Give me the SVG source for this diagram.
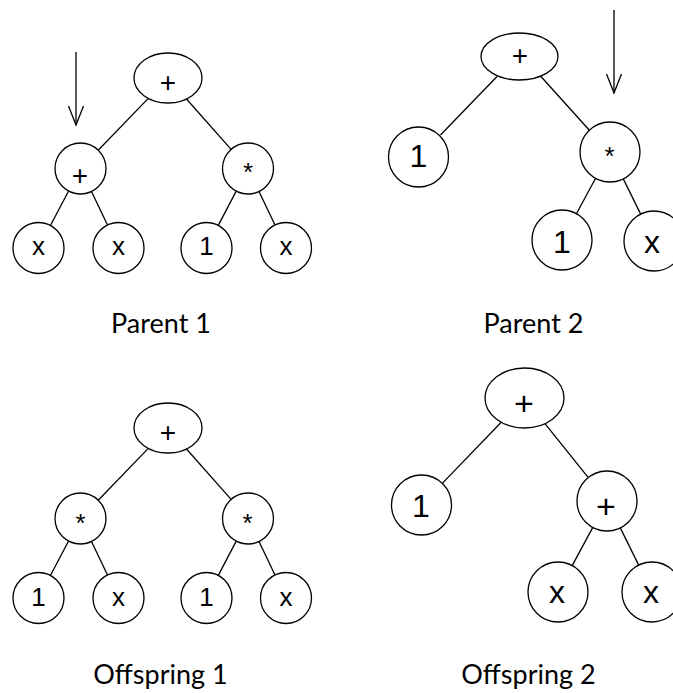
<svg xmlns="http://www.w3.org/2000/svg" width="673" height="693" viewBox="0 0 673 693">
  <style>
    .shape { fill: #ffffff; stroke: #000000; stroke-width: 1.3; }
    .edge { stroke: #000000; stroke-width: 1.3; fill: none; }
    .lbl { font-family: "Liberation Sans", Arial, sans-serif; fill: #000000; text-anchor: middle; }
    .s26 { font-size: 26px; }
    .s28 { font-size: 28px; }
    .s32 { font-size: 32px; }
    .s34 { font-size: 34px; }
    .caption { font-family: Lato, "Open Sans", sans-serif; font-size: 27px; fill: #000000; text-anchor: middle; }
  </style>
  <defs>
    <marker id="openHead" markerUnits="userSpaceOnUse" markerWidth="24" markerHeight="20" viewBox="-20 -10 24 20" refX="0" refY="0" orient="auto">
      <path d="M-19,-7.5 L0,0 L-19,7.5" fill="none" stroke="#000000" stroke-width="1.3"/>
    </marker>
  </defs>

  <rect width="673" height="693" fill="#ffffff"/>

  <!-- connectors -->
  <g id="connectors">
    <!-- Parent 1 -->
    <line class="edge" x1="148.3" y1="98.4" x2="98.2" y2="150.2"/>
    <line class="edge" x1="186.5" y1="99" x2="231.1" y2="149.4"/>
    <line class="edge" x1="68.6" y1="191" x2="50.4" y2="225.5"/>
    <line class="edge" x1="91.5" y1="191.5" x2="107.5" y2="225"/>
    <line class="edge" x1="236.2" y1="191.1" x2="218.3" y2="225.4"/>
    <line class="edge" x1="259" y1="191.5" x2="275" y2="225"/>
    <line class="edge" x1="76" y1="52" x2="76" y2="125" marker-end="url(#openHead)"/>
    <!-- Parent 2 -->
    <line class="edge" x1="497" y1="76.5" x2="440.5" y2="135"/>
    <line class="edge" x1="540.5" y1="76" x2="589.4" y2="130.2"/>
    <line class="edge" x1="595.6" y1="178.3" x2="576.4" y2="213.7"/>
    <line class="edge" x1="623.3" y1="178.9" x2="640.7" y2="214.1"/>
    <line class="edge" x1="614" y1="10" x2="614" y2="93" marker-end="url(#openHead)"/>
    <!-- Offspring 1 -->
    <line class="edge" x1="148.3" y1="448.4" x2="98.2" y2="500.2"/>
    <line class="edge" x1="186.5" y1="449" x2="231.1" y2="499.4"/>
    <line class="edge" x1="68.6" y1="541" x2="50.4" y2="575.5"/>
    <line class="edge" x1="91.5" y1="541.5" x2="107.5" y2="575"/>
    <line class="edge" x1="236.2" y1="541.1" x2="218.3" y2="575.4"/>
    <line class="edge" x1="259" y1="541.5" x2="275" y2="575"/>
    <!-- Offspring 2 -->
    <line class="edge" x1="501.2" y1="422.2" x2="442.3" y2="483.4"/>
    <line class="edge" x1="545" y1="423.6" x2="588.3" y2="477.6"/>
    <line class="edge" x1="592.8" y1="527.4" x2="572.2" y2="565.6"/>
    <line class="edge" x1="620.3" y1="527.9" x2="638.7" y2="565.1"/>
  </g>

  <!-- Parent 1 -->
  <g id="p1-root"><ellipse class="shape" cx="168" cy="78" rx="34" ry="25"/><text class="lbl s28" x="168" y="92">+</text></g>
  <g id="p1-plus"><circle class="shape" cx="80.5" cy="168.5" r="25.5"/><text class="lbl s28" x="80" y="185">+</text></g>
  <g id="p1-mul"><circle class="shape" cx="248" cy="168.5" r="25.5"/><text class="lbl s26" x="248" y="181">*</text></g>
  <g id="p1-x1"><circle class="shape" cx="38.5" cy="248" r="25.5"/><text class="lbl s26" x="38.5" y="255">x</text></g>
  <g id="p1-x2"><circle class="shape" cx="118.5" cy="248" r="25.5"/><text class="lbl s26" x="118.5" y="255">x</text></g>
  <g id="p1-one"><circle class="shape" cx="206.5" cy="248" r="25.5"/><text class="lbl s26" x="206.5" y="255">1</text></g>
  <g id="p1-x3"><circle class="shape" cx="286" cy="248" r="25.5"/><text class="lbl s26" x="286" y="255">x</text></g>
  <g id="p1-caption"><text class="caption" x="161" y="333">Parent 1</text></g>

  <!-- Parent 2 -->
  <g id="p2-root"><ellipse class="shape" cx="519.5" cy="56.5" rx="38.5" ry="23.5"/><text class="lbl s28" x="520" y="65">+</text></g>
  <g id="p2-one"><circle class="shape" cx="418.5" cy="157" r="30"/><text class="lbl s32" x="418.5" y="167">1</text></g>
  <g id="p2-mul"><circle class="shape" cx="610" cy="152" r="30"/><text class="lbl s26" x="609.5" y="165">*</text></g>
  <g id="p2-one-b"><circle class="shape" cx="562" cy="240" r="30"/><text class="lbl s32" x="562" y="253">1</text></g>
  <g id="p2-x"><circle class="shape" cx="654" cy="241" r="30"/><text class="lbl s32" x="652" y="253">x</text></g>
  <g id="p2-caption"><text class="caption" x="533.5" y="333">Parent 2</text></g>

  <!-- Offspring 1 -->
  <g id="o1-root"><ellipse class="shape" cx="168" cy="428" rx="34" ry="25"/><text class="lbl s28" x="168" y="442">+</text></g>
  <g id="o1-mul-a"><circle class="shape" cx="80.5" cy="518.5" r="25.5"/><text class="lbl s26" x="80.5" y="532">*</text></g>
  <g id="o1-mul-b"><circle class="shape" cx="248" cy="518.5" r="25.5"/><text class="lbl s26" x="247.5" y="532">*</text></g>
  <g id="o1-one-a"><circle class="shape" cx="38.5" cy="598" r="25.5"/><text class="lbl s26" x="38.5" y="606">1</text></g>
  <g id="o1-x-a"><circle class="shape" cx="118.5" cy="598" r="25.5"/><text class="lbl s26" x="118.5" y="606">x</text></g>
  <g id="o1-one-b"><circle class="shape" cx="206.5" cy="598" r="25.5"/><text class="lbl s26" x="206.5" y="606">1</text></g>
  <g id="o1-x-b"><circle class="shape" cx="286" cy="598" r="25.5"/><text class="lbl s26" x="286" y="606">x</text></g>
  <g id="o1-caption"><text class="caption" x="160.5" y="684">Offspring 1</text></g>

  <!-- Offspring 2 -->
  <g id="o2-root"><ellipse class="shape" cx="524.5" cy="398" rx="39.5" ry="30"/><text class="lbl s34" x="524" y="415">+</text></g>
  <g id="o2-one"><circle class="shape" cx="421.5" cy="505" r="30"/><text class="lbl s32" x="421" y="517">1</text></g>
  <g id="o2-plus"><circle class="shape" cx="607" cy="501" r="30"/><text class="lbl s34" x="606" y="518">+</text></g>
  <g id="o2-x1"><circle class="shape" cx="558" cy="592" r="30"/><text class="lbl s32" x="557" y="603">x</text></g>
  <g id="o2-x2"><circle class="shape" cx="652" cy="592" r="30"/><text class="lbl s32" x="651" y="603">x</text></g>
  <g id="o2-caption"><text class="caption" x="528.5" y="684">Offspring 2</text></g>
</svg>
